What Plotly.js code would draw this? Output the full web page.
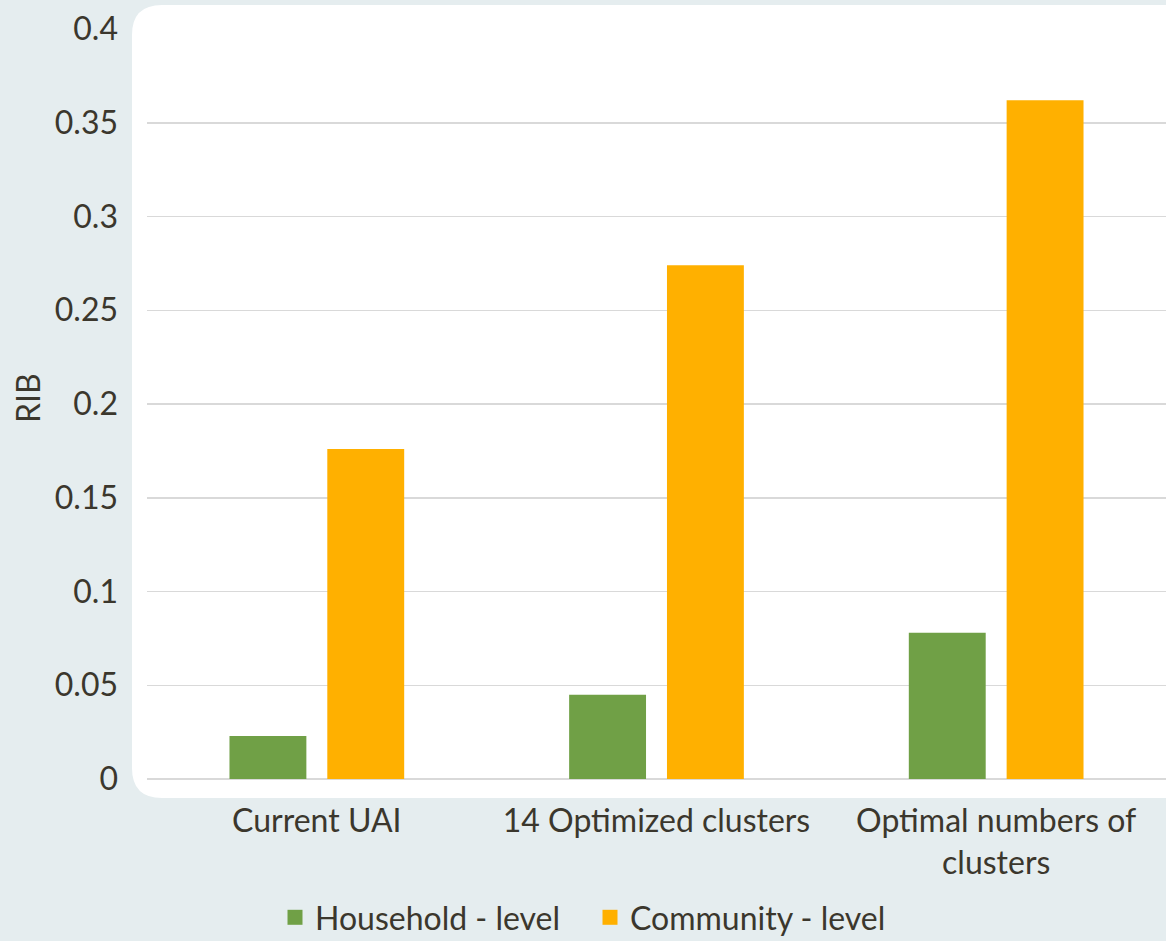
<!DOCTYPE html>
<html>
<head>
<meta charset="utf-8">
<script src="https://cdn.plot.ly/plotly-3.0.1.min.js"></script>
<style>html,body{margin:0;padding:0;background:#e5edef;}#chart{width:1166px;height:941px;}</style>
</head>
<body>
<div id="chart"></div>
<script>
const categories = ["Current UAI", "14 Optimized clusters", "Optimal numbers of<br>clusters"];
const householdLevel = [0.023, 0.045, 0.078];
const communityLevel = [0.176, 0.274, 0.362];
const seriesNames = ["Household - level", "Community - level"];
const seriesColors = ["#70a046", "#ffb000"];
const yTicks = [0, 0.05, 0.1, 0.15, 0.2, 0.25, 0.3, 0.35, 0.4];
const yTickLabels = ["0", "0.05", "0.1", "0.15", "0.2", "0.25", "0.3", "0.35", "0.4"];

const W = 1166, H = 941;
const mL = 147, mR = 0, mT = 29, mB = 162;
const pw = W - mL - mR, ph = H - mT - mB;
const px = v => (v - mL) / pw;
const py = v => (H - mB - v) / ph;
const x0 = px(132), x1 = px(1166), yTop = py(5), yBot = py(798);
const rx = 30 / pw, ry = 30 / ph;
const path = `M ${x0 + rx} ${yTop} L ${x1} ${yTop} L ${x1} ${yBot} L ${x0 + rx} ${yBot} Q ${x0} ${yBot} ${x0} ${yBot + ry} L ${x0} ${yTop - ry} Q ${x0} ${yTop} ${x0 + rx} ${yTop} Z`;

const font = {family: "Lato, 'Open Sans', sans-serif", size: 32, color: "#3b372d"};

const data = [
  {type: "bar", name: seriesNames[0], x: categories, y: householdLevel, marker: {color: seriesColors[0]}, showlegend: false},
  {type: "bar", name: seriesNames[1], x: categories, y: communityLevel, marker: {color: seriesColors[1]}, showlegend: false},
  {type: "scatter", mode: "markers", name: seriesNames[0], x: [categories[0]], y: [null], marker: {symbol: "square", size: 15, color: seriesColors[0]}, hoverinfo: "skip"},
  {type: "scatter", mode: "markers", name: seriesNames[1], x: [categories[0]], y: [null], marker: {symbol: "square", size: 15, color: seriesColors[1]}, hoverinfo: "skip"}
];

const layout = {
  width: W, height: H,
  margin: {l: mL, r: mR, t: mT, b: mB, pad: 0, autoexpand: false},
  paper_bgcolor: "#e5edef",
  plot_bgcolor: "rgba(0,0,0,0)",
  font: font,
  barmode: "group",
  bargap: 0.424,
  bargroupgap: 0.214,
  showlegend: true,
  legend: {orientation: "h", x: px(590), xanchor: "center", y: py(890), yanchor: "top", font: font, itemwidth: 30, entrywidth: 270, traceorder: "normal"},
  xaxis: {
    type: "category", showgrid: false, zeroline: false, showline: false, ticks: "",
    tickfont: font, ticklabelstandoff: 20, automargin: false
  },
  yaxis: {
    range: [0, 0.4], tickvals: yTicks, ticktext: yTickLabels,
    showgrid: true, gridcolor: "#d9d9d9", gridwidth: 1.5, zeroline: true, zerolinecolor: "#d9d9d9", zerolinewidth: 1.5,
    showline: false, ticks: "", tickfont: font, ticklabelstandoff: 28, automargin: false
  },
  annotations: [{text: "RIB", xref: "paper", yref: "paper", x: px(27), y: py(398), xanchor: "center", yanchor: "middle", textangle: -90, showarrow: false, font: font}],
  shapes: [{type: "path", xref: "paper", yref: "paper", path: path, fillcolor: "#ffffff", line: {width: 0}, layer: "below"}]
};

Plotly.newPlot("chart", data, layout, {displayModeBar: false, staticPlot: true});
</script>
</body>
</html>
